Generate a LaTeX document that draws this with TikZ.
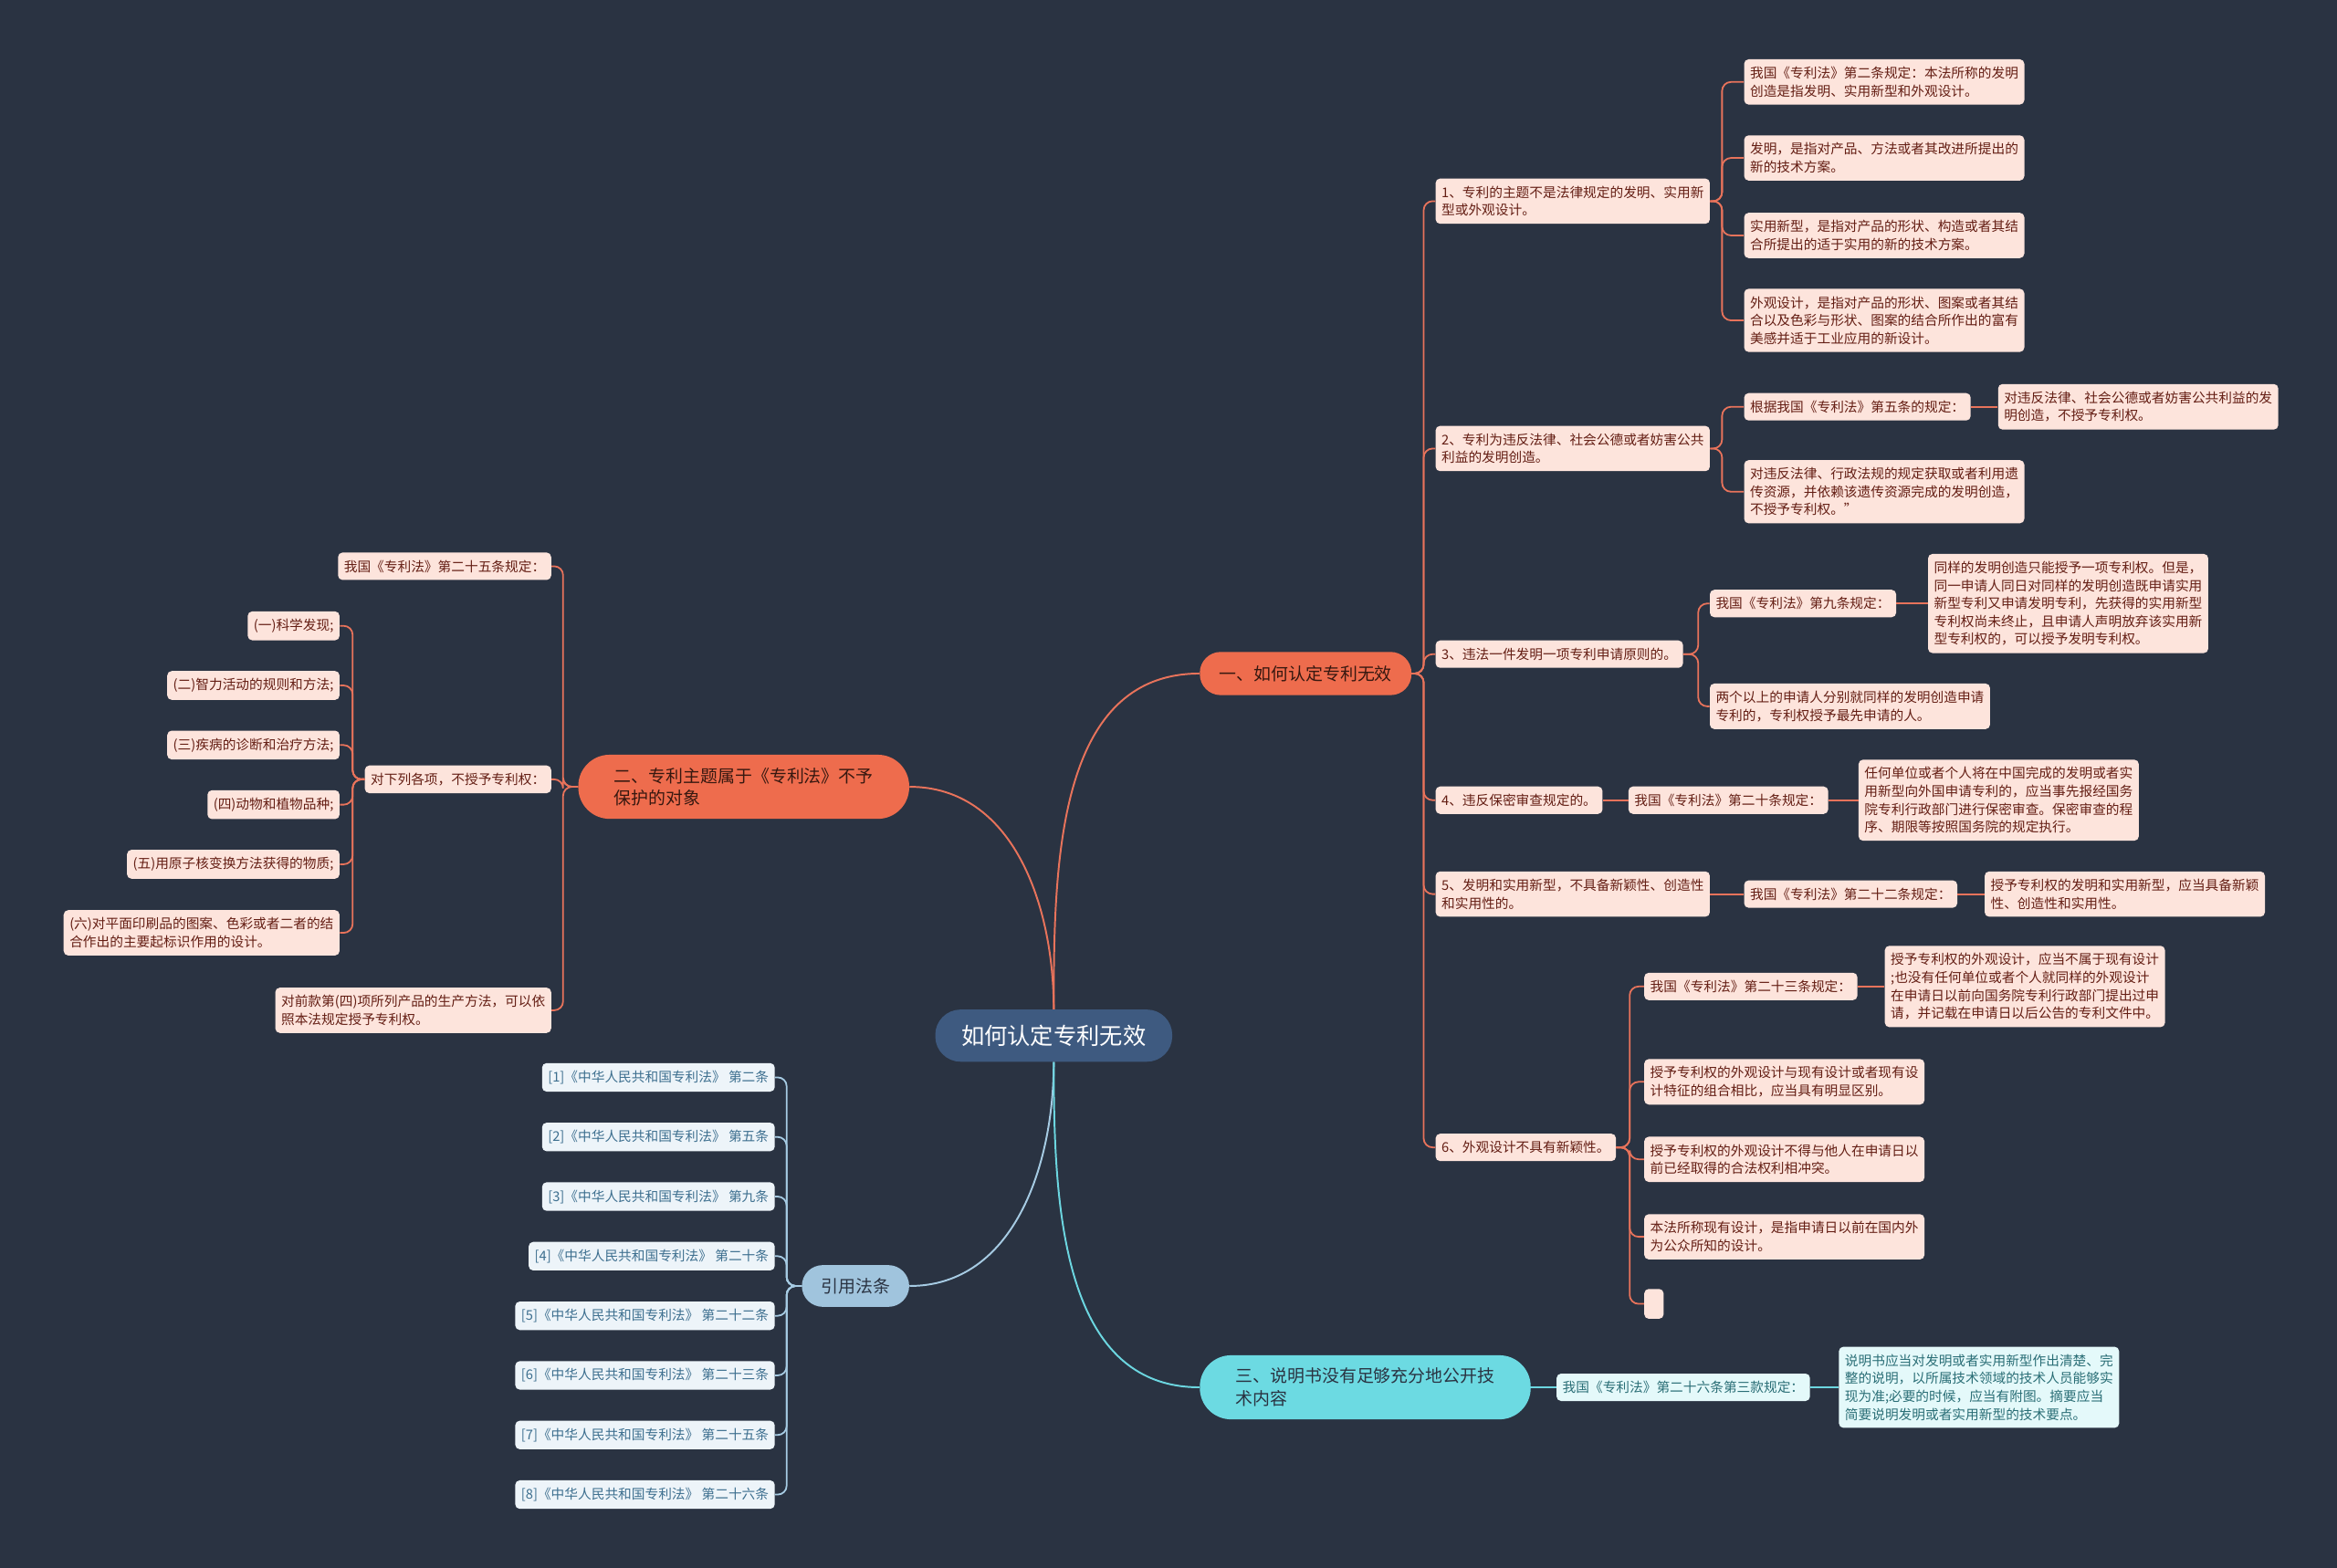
\documentclass[tikz,border=0pt]{standalone}
\usepackage{fontspec}
\setmainfont{Noto Sans CJK SC}
\usetikzlibrary{positioning}
\definecolor{bgnavy}{RGB}{42,51,66}
\definecolor{rootblue}{RGB}{62,90,128}
\definecolor{coral}{RGB}{238,108,77}
\definecolor{coralline}{RGB}{232,115,91}
\definecolor{pinkleaf}{RGB}{253,228,220}
\definecolor{maroon}{RGB}{100,30,20}
\definecolor{darkbrown}{RGB}{55,24,16}
\definecolor{skyfill}{RGB}{160,196,221}
\definecolor{skyleaf}{RGB}{237,244,249}
\definecolor{skytext}{RGB}{61,111,143}
\definecolor{skyline}{RGB}{166,203,227}
\definecolor{cyanfill}{RGB}{108,218,226}
\definecolor{cyanleaf}{RGB}{228,249,250}
\definecolor{cyantext}{RGB}{42,110,118}
\definecolor{cyanline}{RGB}{108,214,224}
\newcommand{\leaffont}{\fontsize{9}{12}\selectfont}
\newcommand{\branchfont}{\fontsize{11.6}{15}\selectfont}

\begin{document}
\begin{tikzpicture}[x=1pt, y=-1pt,
  leaf/.style={fill=pinkleaf, text=maroon, rounded corners=3pt,
    inner xsep=4pt, inner ysep=5pt, align=left, font=\leaffont},
  refleaf/.style={leaf, fill=skyleaf, text=skytext},
  tealleaf/.style={leaf, fill=cyanleaf, text=cyantext},
  branch/.style={fill=coral, text=darkbrown, font=\branchfont, align=left,
    inner sep=0pt},
  olink/.style={draw=coralline, line width=1.1pt, rounded corners=6pt},
  blink/.style={draw=skyline, line width=1.1pt, rounded corners=6pt},
  clink/.style={draw=cyanline, line width=1.1pt, rounded corners=6pt}]

\fill[bgnavy] (0,0) rectangle (1568,1052);

% centre and main branches
\node[fill=rootblue, text=white, font=\fontsize{15.5}{18}\selectfont,
      rounded corners=17pt, minimum width=159pt, minimum height=35pt] (root) at (707,695) {如何认定专利无效};
\node[branch, rounded corners=14pt, minimum width=142pt, minimum height=29pt] (b1) at (876,452) {一、如何认定专利无效};
\node[branch, rounded corners=21pt, minimum width=222pt, minimum height=43pt] (b2) at (499,528) {二、专利主题属于《专利法》不予\\保护的对象};
\node[branch, fill=cyanfill, text=bgnavy, rounded corners=21pt, minimum width=222pt, minimum height=43pt] (b3) at (916,931) {三、说明书没有足够充分地公开技\\术内容};
\node[branch, fill=skyfill, text=bgnavy, rounded corners=14pt, minimum width=72pt, minimum height=28pt] (cite) at (574,863) {引用法条};

\draw[coralline, line width=1.2pt] (root.north) to[out=90,in=180] (b1.west);
\draw[coralline, line width=1.2pt] (root.north) to[out=90,in=0] (b2.east);
\draw[skyline, line width=1.2pt] (root.south) to[out=-90,in=0] (cite.east);
\draw[cyanline, line width=1.2pt] (root.south) to[out=-90,in=180] (b3.west);

% branch one
\node[leaf, anchor=west] (p1) at (963,135) {1、专利的主题不是法律规定的发明、实用新\\型或外观设计。};
\node[leaf, anchor=west] (p2) at (963,301) {2、专利为违反法律、社会公德或者妨害公共\\利益的发明创造。};
\node[leaf, anchor=west] (p3) at (963,439) {3、违法一件发明一项专利申请原则的。};
\node[leaf, anchor=west] (p4) at (963,537) {4、违反保密审查规定的。};
\node[leaf, anchor=west] (p5) at (963,600) {5、发明和实用新型，不具备新颖性、创造性\\和实用性的。};
\node[leaf, anchor=west] (p6) at (963,770) {6、外观设计不具有新颖性。};
\foreach \c in {p1,p2,p3,p4,p5,p6}
  \draw[olink] (b1.east) -- ++(8,0) |- (\c.west);

\node[leaf, anchor=west] (p1a) at (1170,55) {我国《专利法》第二条规定：本法所称的发明\\创造是指发明、实用新型和外观设计。};
\node[leaf, anchor=west] (p1b) at (1170,106) {发明，是指对产品、方法或者其改进所提出的\\新的技术方案。};
\node[leaf, anchor=west] (p1c) at (1170,158) {实用新型，是指对产品的形状、构造或者其结\\合所提出的适于实用的新的技术方案。};
\node[leaf, anchor=west] (p1d) at (1170,215) {外观设计，是指对产品的形状、图案或者其结\\合以及色彩与形状、图案的结合所作出的富有\\美感并适于工业应用的新设计。};
\foreach \c in {p1a,p1b,p1c,p1d}
  \draw[olink] (p1.east) -- ++(8,0) |- (\c.west);

\node[leaf, anchor=west] (p2a) at (1170,273) {根据我国《专利法》第五条的规定：};
\node[leaf, right=18pt of p2a] (p2b) {对违反法律、社会公德或者妨害公共利益的发\\明创造，不授予专利权。};
\node[leaf, anchor=west] (p2c) at (1170,330) {对违反法律、行政法规的规定获取或者利用遗\\传资源，并依赖该遗传资源完成的发明创造，\\不授予专利权。”};
\foreach \c in {p2a,p2c}
  \draw[olink] (p2.east) -- ++(8,0) |- (\c.west);
\draw[olink] (p2a) -- (p2b);

\node[leaf, anchor=west] (p3a) at (1147,405) {我国《专利法》第九条规定：};
\node[leaf, right=21pt of p3a] (p3b) {同样的发明创造只能授予一项专利权。但是，\\同一申请人同日对同样的发明创造既申请实用\\新型专利又申请发明专利，先获得的实用新型\\专利权尚未终止，且申请人声明放弃该实用新\\型专利权的，可以授予发明专利权。};
\node[leaf, anchor=west] (p3c) at (1147,474) {两个以上的申请人分别就同样的发明创造申请\\专利的，专利权授予最先申请的人。};
\foreach \c in {p3a,p3c}
  \draw[olink] (p3.east) -- ++(10,0) |- (\c.west);
\draw[olink] (p3a) -- (p3b);

\node[leaf, right=17pt of p4] (p4a) {我国《专利法》第二十条规定：};
\node[leaf, right=20pt of p4a] (p4b) {任何单位或者个人将在中国完成的发明或者实\\用新型向外国申请专利的，应当事先报经国务\\院专利行政部门进行保密审查。保密审查的程\\序、期限等按照国务院的规定执行。};
\draw[olink] (p4) -- (p4a);
\draw[olink] (p4a) -- (p4b);

\node[leaf, anchor=west] (p5a) at (1170,600) {我国《专利法》第二十二条规定：};
\node[leaf, right=18pt of p5a] (p5b) {授予专利权的发明和实用新型，应当具备新颖\\性、创造性和实用性。};
\draw[olink] (p5) -- (p5a);
\draw[olink] (p5a) -- (p5b);

\node[leaf, anchor=west] (p6a) at (1103,662) {我国《专利法》第二十三条规定：};
\node[leaf, right=18pt of p6a] (p6b) {授予专利权的外观设计，应当不属于现有设计\\;也没有任何单位或者个人就同样的外观设计\\在申请日以前向国务院专利行政部门提出过申\\请，并记载在申请日以后公告的专利文件中。};
\node[leaf, anchor=west] (p6c) at (1103,726) {授予专利权的外观设计与现有设计或者现有设\\计特征的组合相比，应当具有明显区别。};
\node[leaf, anchor=west] (p6d) at (1103,778) {授予专利权的外观设计不得与他人在申请日以\\前已经取得的合法权利相冲突。};
\node[leaf, anchor=west] (p6e) at (1103,830) {本法所称现有设计，是指申请日以前在国内外\\为公众所知的设计。};
\node[leaf, anchor=west, inner sep=0pt, minimum width=13pt, minimum height=20pt] (p6f) at (1103,875) {};
\foreach \c in {p6a,p6c,p6d,p6e,p6f}
  \draw[olink] (p6.east) -- ++(9,0) |- (\c.west);
\draw[olink] (p6a) -- (p6b);

% branch two
\node[leaf, anchor=east] (q1) at (370,380) {我国《专利法》第二十五条规定：};
\node[leaf, anchor=east] (q2) at (370,523) {对下列各项，不授予专利权：};
\node[leaf, anchor=east] (q3) at (370,678) {对前款第(四)项所列产品的生产方法，可以依\\照本法规定授予专利权。};
\foreach \c in {q1,q2,q3}
  \draw[olink] (b2.west) -- ++(-10,0) |- (\c.east);

\foreach \n/\txt/\yy in {1/{(一)科学发现;}/420, 2/{(二)智力活动的规则和方法;}/460,
    3/{(三)疾病的诊断和治疗方法;}/500, 4/{(四)动物和植物品种;}/540,
    5/{(五)用原子核变换方法获得的物质;}/580,
    6/{(六)对平面印刷品的图案、色彩或者二者的结\\合作出的主要起标识作用的设计。}/626}
{
  \node[leaf, anchor=east] (q2\n) at (228,\yy) {\txt};
  \draw[olink] (q2.west) -- ++(-8,0) |- (q2\n.east);
}

% cited articles
\foreach \n/\art/\yy in {1/第二条/723, 2/第五条/763, 3/第九条/803, 4/第二十条/843,
    5/第二十二条/883, 6/第二十三条/923, 7/第二十五条/963, 8/第二十六条/1003}
{
  \node[refleaf, anchor=east] (c\n) at (520,\yy) {[\n]《中华人民共和国专利法》 \art};
  \draw[blink] (cite.west) -- ++(-10,0) |- (c\n.east);
}

% branch three
\node[tealleaf, right=17pt of b3] (r1) {我国《专利法》第二十六条第三款规定：};
\node[tealleaf, right=19pt of r1] (r2) {说明书应当对发明或者实用新型作出清楚、完\\整的说明，以所属技术领域的技术人员能够实\\现为准;必要的时候，应当有附图。摘要应当\\简要说明发明或者实用新型的技术要点。};
\draw[clink] (b3) -- (r1);
\draw[clink] (r1) -- (r2);
\end{tikzpicture}
\end{document}
